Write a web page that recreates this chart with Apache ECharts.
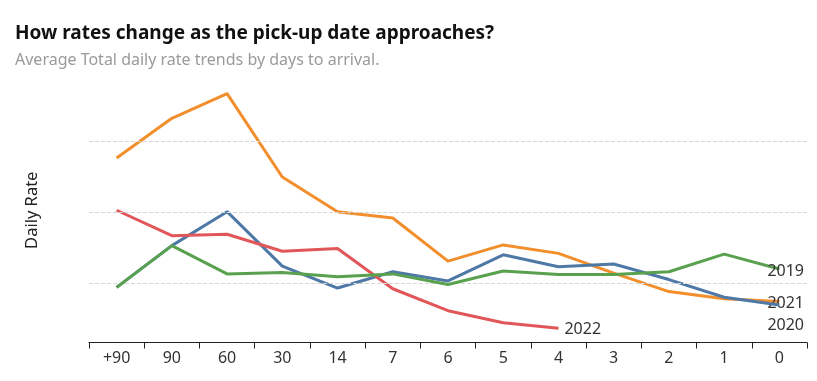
<!DOCTYPE html>
<html>
<head>
<meta charset="utf-8">
<script src="https://cdn.jsdelivr.net/npm/echarts@6/dist/echarts.min.js"></script>
<style>
html,body{margin:0;padding:0;background:#fff;}
#chart{width:817px;height:381px;}
</style>
</head>
<body>
<div id="chart"></div>
<script>
const categories = ['+90','90','60','30','14','7','6','5','4','3','2','1','0'];
const y2021 = [277, 333, 368, 250, 201, 192, 131, 154, 142, 114, 88, 78, 74];
const y2020 = [94, 153, 201, 124, 93, 116, 103, 140, 123, 127, 105, 80, 69];
const y2022 = [203, 167, 169, 145, 149, 92, 61, 44, 36];
const y2019 = [94, 153, 113, 115, 109, 113, 98, 117, 112, 112, 116, 141, 120];
const gridValues = [100, 200, 300];

const FONT = 'Noto Sans';
const chart = echarts.init(document.getElementById('chart'), null, {renderer: 'canvas'});

function lineSeries(name, data, color, z, labelOffset) {
  return {
    name: name,
    type: 'line',
    data: data,
    z: z,
    symbol: 'none',
    showSymbol: false,
    lineStyle: {color: color, width: 3},
    itemStyle: {color: color},
    emphasis: {disabled: true},
    endLabel: {
      show: true,
      formatter: name,
      color: '#333',
      fontFamily: FONT,
      fontSize: 16,
      distance: 5,
      offset: labelOffset
    }
  };
}

chart.setOption({
  animation: false,
  title: [{
    text: 'How rates change as the pick-up date approaches?',
    left: 10,
    top: 19,
    textStyle: {fontFamily: FONT, fontWeight: 'bold', fontSize: 19, color: '#111'}
  }, {
    text: 'Average Total daily rate trends by days to arrival.',
    left: 10,
    top: 47,
    textStyle: {fontFamily: FONT, fontWeight: 'normal', fontSize: 16, color: '#9a9a9a'}
  }],
  grid: {left: 89, right: 10, top: 78, bottom: 38.5},
  xAxis: {
    type: 'category',
    data: categories,
    boundaryGap: true,
    axisLine: {show: true, onZero: false, lineStyle: {color: '#222', width: 1}},
    axisTick: {show: true, length: 6, lineStyle: {color: '#222'}},
    axisLabel: {color: '#333', fontFamily: FONT, fontSize: 16, margin: 8},
    splitLine: {show: false}
  },
  yAxis: {
    type: 'value',
    min: 16,
    max: 390,
    name: 'Daily Rate',
    nameLocation: 'middle',
    nameGap: 48,
    nameRotate: 90,
    nameTextStyle: {color: '#222', fontFamily: FONT, fontSize: 16.5},
    axisLine: {show: false},
    axisTick: {show: false},
    axisLabel: {show: false},
    splitLine: {show: false}
  },
  series: [
    {
      name: 'grid',
      type: 'line',
      data: [],
      z: 1,
      silent: true,
      markLine: {
        silent: true,
        symbol: 'none',
        label: {show: false},
        lineStyle: {color: '#d6d6d6', width: 1, type: [4, 2]},
        data: gridValues.map(v => ({yAxis: v}))
      }
    },
    lineSeries('2021', y2021, '#f28e2b', 2, [-17, 2]),
    lineSeries('2020', y2020, '#4e79a7', 3, [-17, 20]),
    lineSeries('2022', y2022, '#e15759', 4, [1, 1]),
    lineSeries('2019', y2019, '#59a14f', 5, [-17, 2])
  ]
});
</script>
</body>
</html>
